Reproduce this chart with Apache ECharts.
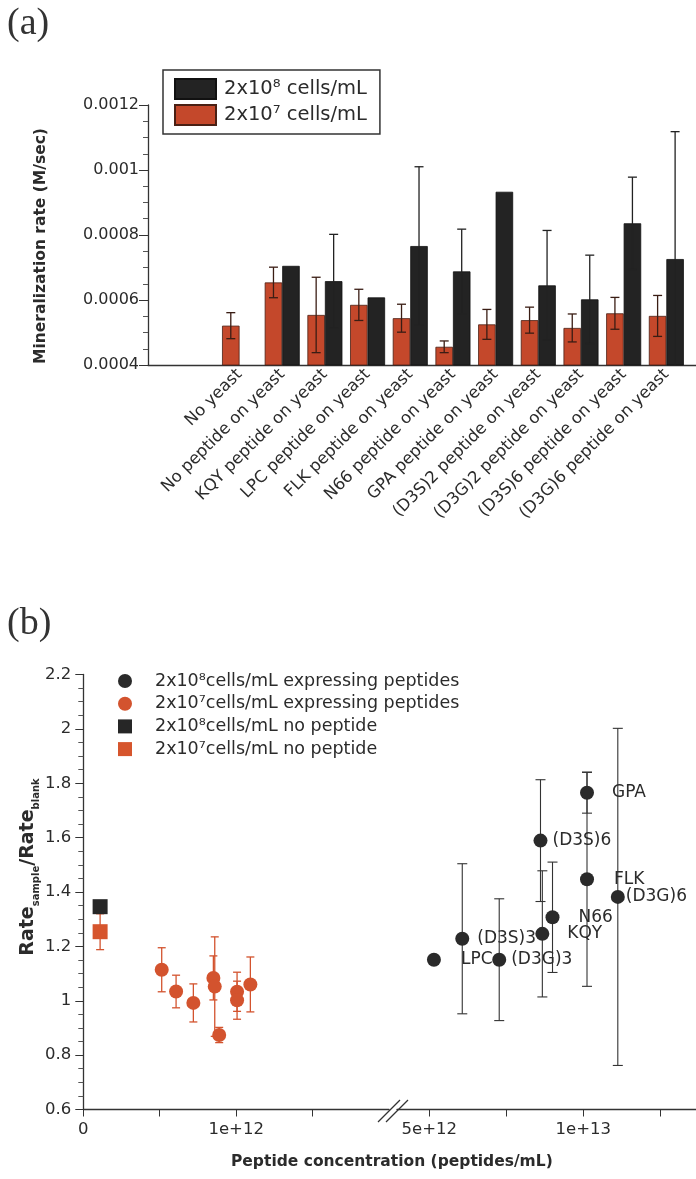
<!DOCTYPE html>
<html>
<head>
<meta charset="utf-8">
<script src="https://cdn.jsdelivr.net/npm/echarts@6.0.0/dist/echarts.min.js"></script>
<style>
  html, body { margin: 0; padding: 0; background: #fff; }
  #chart { width: 696px; height: 1179px; }
</style>
</head>
<body>
<div id="chart"></div>
<script>
// ---- panel (a) data ----
const categories = ['No yeast', 'No peptide on yeast', 'KQY peptide on yeast', 'LPC peptide on yeast',
  'FLK peptide on yeast', 'N66 peptide on yeast', 'GPA peptide on yeast', '(D3S)2 peptide on yeast',
  '(D3G)2 peptide on yeast', '(D3S)6 peptide on yeast', '(D3G)6 peptide on yeast']
const rateHigh = [null, 0.000705, 0.000658, 0.000608, 0.000766, 0.000688, 0.000933, 0.000645, 0.000602, 0.000836, 0.000726]
const errHigh = [0, 0, 0.000144, 0, 0.000244, 0.00013, 0, 0.000169, 0.000136, 0.000142, 0.000392]
const rateLow = [0.000521, 0.000654, 0.000554, 0.000585, 0.000544, 0.000456, 0.000525, 0.000538, 0.000514, 0.000559, 0.000551]
const errLow = [0.00004, 0.000047, 0.000116, 0.000048, 0.000043, 0.000018, 0.000046, 0.00004, 0.000043, 0.000049, 0.000063]
const gridValues = [0.0006, 0.0008, 0.001]

// ---- panel (b) data ----
const lowX = [0.513e12, 0.607e12, 0.72e12, 0.851e12, 0.86e12, 0.889e12, 1.006e12, 1.006e12, 1.093e12]
const lowY = [1.114, 1.034, 0.992, 1.084, 1.052, 0.874, 1.033, 1.002, 1.06]
const lowErr = [0.081, 0.06, 0.07, 0.081, 0.183, 0.028, 0.072, 0.07, 0.101]
const highNames = ['LPC', '(D3S)3', '(D3G)3', 'KQY', '(D3S)6', 'N66', 'GPA', 'FLK', '(D3G)6']
const highX = [5.15e12, 6.07e12, 7.27e12, 8.67e12, 8.61e12, 9.0e12, 10.12e12, 10.12e12, 11.12e12]
const highY = [1.151, 1.228, 1.151, 1.246, 1.589, 1.307, 1.765, 1.447, 1.382]
const highErr = [0, 0.276, 0.224, 0.232, 0.224, 0.203, 0.075, 0.394, 0.62]
const noPepX = [0.11e12]
const noPepHighY = [1.346]
const noPepLowY = [1.254]
const noPepLowErr = [0.066]

const xTicksLeft = [0, 0.5e12, 1e12, 1.5e12]
const xLabelsLeft = [0, 1e12]
const xTicksRight = [5e12, 7.5e12, 1e13, 1.25e13]
const xLabelsRight = [5e12, 1e13]

const FONT = 'DejaVu Sans'
const TXT = '#2b2b2b'
const ORANGE_BAR = '#c4482b'
const BLACK_BAR = '#232323'
const ORANGE_PT = '#d3532e'
const BLACK_PT = '#2a2a2a'
const labelGap = { 'LPC': 20, '(D3S)3': 8, '(D3G)3': 5, 'KQY': 18, '(D3S)6': 5, 'N66': 19, 'GPA': 18, 'FLK': 20, '(D3G)6': 1 }

const barW = 17.5

function barErrors(offset, color) {
    return function (params, api) {
        const e = api.value(2)
        if (!e) return
        const v = api.value(1)
        const top = api.coord([api.value(0), v + e])
        const bot = api.coord([api.value(0), v - e])
        const x = top[0] + offset
        const st = { stroke: color, lineWidth: 1.3 }
        return {
            type: 'group',
            children: [
                { type: 'line', shape: { x1: x, y1: top[1], x2: x, y2: bot[1] }, style: st },
                { type: 'line', shape: { x1: x - 4.5, y1: top[1], x2: x + 4.5, y2: top[1] }, style: st },
                { type: 'line', shape: { x1: x - 4.5, y1: bot[1], x2: x + 4.5, y2: bot[1] }, style: st }
            ]
        }
    }
}

function ptErrors(color, cap, width) {
    return function (params, api) {
        const e = api.value(2)
        if (!e) return
        const v = api.value(1)
        const top = api.coord([api.value(0), v + e])
        const bot = api.coord([api.value(0), v - e])
        const x = top[0]
        const st = { stroke: color, lineWidth: width }
        return {
            type: 'group',
            children: [
                { type: 'line', shape: { x1: x, y1: top[1], x2: x, y2: bot[1] }, style: st },
                { type: 'line', shape: { x1: x - cap, y1: top[1], x2: x + cap, y2: top[1] }, style: st },
                { type: 'line', shape: { x1: x - cap, y1: bot[1], x2: x + cap, y2: bot[1] }, style: st }
            ]
        }
    }
}

const sciLabel = v => (v === 0 ? '0' : v.toExponential())

const chart = echarts.init(document.getElementById('chart'))
chart.setOption({
    animation: false,
    textStyle: { fontFamily: FONT, color: TXT },
    title: [
        { text: '(a)', left: 2, top: 0, textStyle: { fontFamily: 'Liberation Serif', fontWeight: 'normal', fontSize: 38, color: '#333' } },
        { text: '(b)', left: 2, top: 600, textStyle: { fontFamily: 'Liberation Serif', fontWeight: 'normal', fontSize: 38, color: '#333' } },
        { text: 'Peptide concentration (peptides/mL)', left: 226, top: 1149, textStyle: { fontFamily: FONT, fontWeight: 'bold', fontSize: 15.5, color: TXT } }
    ],
    legend: [
        {
            data: [
                { name: '2x10⁸ cells/mL', icon: 'rect' },
                { name: '2x10⁷ cells/mL', icon: 'rect' }
            ],
            orient: 'vertical', left: 163, top: 70,
            padding: [8, 13, 8, 11], itemGap: 4,
            itemWidth: 41, itemHeight: 20,
            borderColor: '#333', borderWidth: 1.5,
            textStyle: { fontFamily: FONT, fontSize: 19.5, color: TXT, padding: [0, 0, 0, 3] }
        },
        {
            data: ['2x10⁸cells/mL expressing peptides', '2x10⁷cells/mL expressing peptides',
                '2x10⁸cells/mL no peptide', '2x10⁷cells/mL no peptide'],
            orient: 'vertical', left: 113, top: 667,
            itemGap: 4.7, itemWidth: 14, itemHeight: 14,
            textStyle: { fontFamily: FONT, fontSize: 17.5, lineHeight: 18, color: TXT, padding: [0, 0, 0, 18] }
        }
    ],
    grid: [
        { left: 148, top: 105, right: 0, height: 260 },
        { left: 218.2, top: 105, width: 469.5, height: 260 },
        { left: 83.3, top: 674.5, width: 305.7, height: 435 },
        { left: 397, top: 674.5, right: 0, height: 435 }
    ],
    xAxis: [
        {
            gridIndex: 0, type: 'value', min: 0, max: 1,
            axisLine: { lineStyle: { color: '#333', width: 1.3 } },
            axisTick: { show: false }, axisLabel: { show: false }, splitLine: { show: false }
        },
        {
            gridIndex: 1, type: 'category', data: categories,
            axisLine: { show: false }, axisTick: { show: false },
            axisLabel: { interval: 0, rotate: 45, fontSize: 16.5, color: TXT, margin: 7 }
        },
        {
            gridIndex: 2, type: 'value', min: 0, max: 2e12,
            axisLine: { lineStyle: { color: '#333', width: 1.3 } },
            axisTick: { customValues: xTicksLeft, length: 7, lineStyle: { color: '#333' } },
            axisLabel: { customValues: xLabelsLeft, formatter: sciLabel, fontSize: 16.5, color: TXT, margin: 12 },
            splitLine: { show: false }
        },
        {
            gridIndex: 3, type: 'value', min: 3.951e12, max: 13.659e12,
            axisLine: { lineStyle: { color: '#333', width: 1.3 } },
            axisTick: { customValues: xTicksRight, length: 7, lineStyle: { color: '#333' } },
            axisLabel: { customValues: xLabelsRight, formatter: sciLabel, fontSize: 16.5, color: TXT, margin: 12 },
            splitLine: { show: false }
        }
    ],
    yAxis: [
        {
            gridIndex: 0, type: 'value', min: 0.0004, max: 0.0012, interval: 0.0002,
            name: 'Mineralization rate (M/sec)', nameLocation: 'middle', nameGap: 99,
            nameTextStyle: { fontFamily: FONT, fontWeight: 'bold', fontSize: 15.5, color: TXT, padding: [0, 22, 0, 0] },
            axisLine: { show: true, lineStyle: { color: '#333', width: 1.3 } },
            axisTick: { show: true, length: 9, lineStyle: { color: '#333' } },
            minorTick: { show: true, splitNumber: 4, length: 5, lineStyle: { color: '#555' } },
            axisLabel: { fontSize: 16, color: TXT, margin: 9 },
            splitLine: { show: false }
        },
        {
            gridIndex: 1, type: 'value', min: 0.0004, max: 0.0012, show: false
        },
        {
            gridIndex: 2, type: 'value', min: 0.6, max: 2.2, interval: 0.2,
            name: '{b|Rate}{s|sample}{b|/Rate}{s|blank}', nameLocation: 'middle', nameGap: 41,
            nameTextStyle: {
                padding: [0, 0, 0, 50],
                rich: {
                    b: { fontFamily: FONT, fontWeight: 'bold', fontSize: 19, color: TXT, lineHeight: 26, verticalAlign: 'middle' },
                    s: { fontFamily: FONT, fontWeight: 'bold', fontSize: 10, color: TXT, lineHeight: 26, verticalAlign: 'bottom' }
                }
            },
            axisLine: { show: true, lineStyle: { color: '#333', width: 1.3 } },
            axisTick: { show: true, length: 8, lineStyle: { color: '#333' } },
            minorTick: { show: true, splitNumber: 4, length: 5, lineStyle: { color: '#555' } },
            axisLabel: { fontSize: 16.5, color: TXT, margin: 12 },
            splitLine: { show: false }
        },
        {
            gridIndex: 3, type: 'value', min: 0.6, max: 2.2, show: false
        }
    ],
    graphic: [
        { type: 'line', shape: { x1: 378, y1: 1122, x2: 400, y2: 1100 }, style: { stroke: '#333', lineWidth: 1.3 } },
        { type: 'line', shape: { x1: 386, y1: 1122, x2: 408, y2: 1100 }, style: { stroke: '#333', lineWidth: 1.3 } }
    ],
    series: [
        {
            type: 'line', xAxisIndex: 0, yAxisIndex: 0, data: [], silent: true,
            markLine: {
                symbol: 'none', silent: true, label: { show: false },
                lineStyle: { color: '#7a7a7a', width: 1, type: 'solid' },
                data: gridValues.map(v => ({ yAxis: v }))
            }
        },
        {
            name: '2x10⁷ cells/mL', type: 'bar', xAxisIndex: 1, yAxisIndex: 1,
            data: rateLow, barWidth: barW, barGap: '0%', z: 3,
            itemStyle: { color: ORANGE_BAR, borderColor: '#4a2014', borderWidth: 0.8 }
        },
        {
            name: '2x10⁸ cells/mL', type: 'bar', xAxisIndex: 1, yAxisIndex: 1,
            data: rateHigh, barWidth: barW, barGap: '0%', z: 3,
            itemStyle: { color: BLACK_BAR, borderColor: '#111', borderWidth: 0.8 }
        },
        {
            type: 'custom', xAxisIndex: 1, yAxisIndex: 1, z: 4, silent: true, clip: true,
            renderItem: barErrors(-barW / 2, '#3a1d14'),
            data: rateLow.map((v, i) => [i, v, errLow[i]])
        },
        {
            type: 'custom', xAxisIndex: 1, yAxisIndex: 1, z: 4, silent: true, clip: true,
            renderItem: barErrors(barW / 2, '#222'),
            data: rateHigh.map((v, i) => [i, v, v == null ? 0 : errHigh[i]])
        },
        // panel (b)
        {
            type: 'custom', xAxisIndex: 2, yAxisIndex: 2, z: 2, silent: true,
            renderItem: ptErrors(ORANGE_PT, 4, 1.3),
            data: lowX.map((x, i) => [x, lowY[i], lowErr[i]]).concat(noPepX.map((x, i) => [x, noPepLowY[i], noPepLowErr[i]]))
        },
        {
            type: 'custom', xAxisIndex: 3, yAxisIndex: 3, z: 2, silent: true,
            renderItem: ptErrors('#333', 5, 1.1),
            data: highX.map((x, i) => [x, highY[i], highErr[i]])
        },
        {
            name: '2x10⁷cells/mL expressing peptides', type: 'scatter', xAxisIndex: 2, yAxisIndex: 2, z: 3,
            symbol: 'circle', symbolSize: 14,
            itemStyle: { color: ORANGE_PT, opacity: 1 },
            data: lowX.map((x, i) => [x, lowY[i]])
        },
        {
            name: '2x10⁷cells/mL no peptide', type: 'scatter', xAxisIndex: 2, yAxisIndex: 2, z: 3,
            symbol: 'rect', symbolSize: 15,
            itemStyle: { color: '#d6552d', opacity: 1 },
            data: noPepX.map((x, i) => [x, noPepLowY[i]])
        },
        {
            name: '2x10⁸cells/mL no peptide', type: 'scatter', xAxisIndex: 2, yAxisIndex: 2, z: 3,
            symbol: 'rect', symbolSize: 15,
            itemStyle: { color: '#262626', opacity: 1 },
            data: noPepX.map((x, i) => [x, noPepHighY[i]])
        },
        {
            name: '2x10⁸cells/mL expressing peptides', type: 'scatter', xAxisIndex: 3, yAxisIndex: 3, z: 3,
            symbol: 'circle', symbolSize: 14,
            itemStyle: { color: BLACK_PT, opacity: 1 },
            label: {
                show: true, position: 'right', fontFamily: FONT, fontSize: 17, color: TXT,
                formatter: p => highNames[p.dataIndex]
            },
            data: highX.map((x, i) => ({
                value: [x, highY[i]],
                label: { distance: labelGap[highNames[i]] }
            }))
        }
    ]
})
</script>
</body>
</html>
